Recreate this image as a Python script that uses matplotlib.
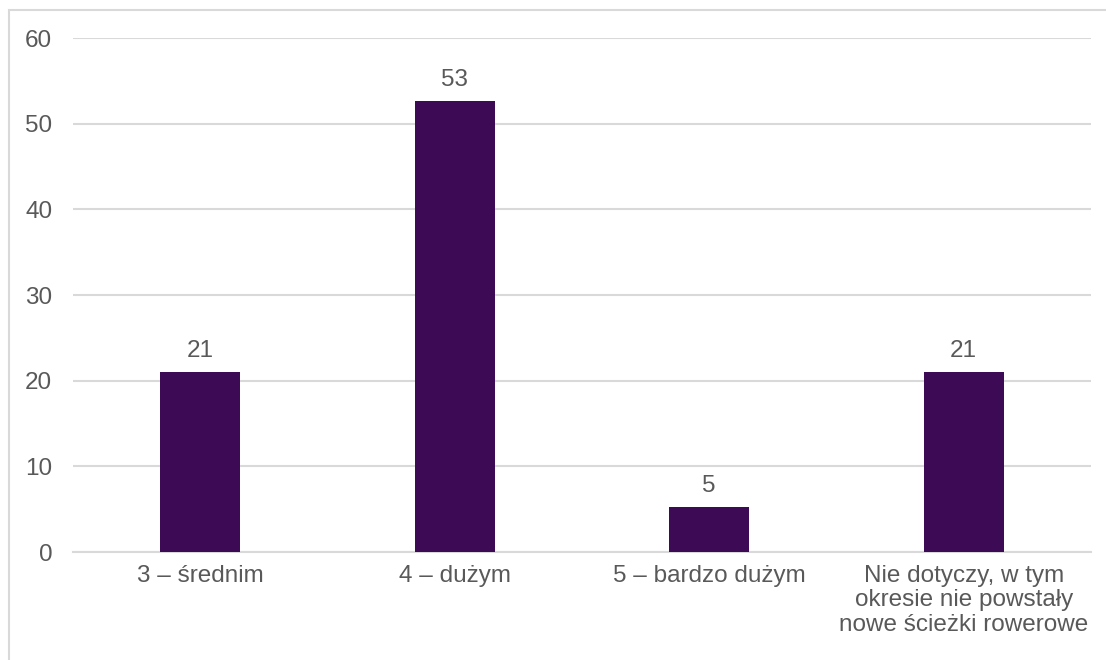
import matplotlib
matplotlib.use("Agg")
import matplotlib.pyplot as plt
from matplotlib.patches import Rectangle

# dane (udziały %)
categories = [
    "3 – średnim",
    "4 – dużym",
    "5 – bardzo dużym",
    "Nie dotyczy, w tym\nokresie nie powstały\nnowe ścieżki rowerowe",
]
values = [21.05, 52.63, 5.26, 21.05]
yticks = [0, 10, 20, 30, 40, 50, 60]

BAR_COLOR = "#3d0a55"
TEXT_COLOR = "#595959"
GRID_COLOR = "#d9d9d9"

plt.rcParams["font.family"] = ["Liberation Sans", "DejaVu Sans"]

fig = plt.figure(figsize=(11.06, 6.6), dpi=100)
ax = fig.add_axes([0.066, 0.1636, 0.9204, 0.7788])

x = range(len(categories))
bars = ax.bar(x, values, width=0.315, color=BAR_COLOR, zorder=3)
ax.bar_label(bars, labels=[f"{v:.0f}" for v in values], padding=7,
             fontsize=17.5, color=TEXT_COLOR)

ax.set_xlim(-0.5, len(categories) - 0.5)
ax.set_ylim(0, 60)
ax.set_yticks(yticks)
ax.set_xticks(list(x))
ax.set_xticklabels(categories, fontsize=17.5, color=TEXT_COLOR,
                   linespacing=1.15)
ax.tick_params(axis="y", length=0, pad=15, labelsize=17.5,
               labelcolor=TEXT_COLOR)
ax.tick_params(axis="x", length=0, pad=9)
ax.yaxis.grid(True, color=GRID_COLOR, lw=1.5, zorder=0)
for side in ["top", "right", "left"]:
    ax.spines[side].set_visible(False)
ax.spines["bottom"].set_color(GRID_COLOR)
ax.spines["bottom"].set_linewidth(1.5)

# ramka wykresu (ucięta na zrzucie)
fig.patches.append(Rectangle((9 / 1106, -0.1), 1.2, 1.1 - 10 / 660,
                             transform=fig.transFigure, fill=False,
                             edgecolor=GRID_COLOR, lw=1.5))

fig.savefig("out.png", dpi=100)
